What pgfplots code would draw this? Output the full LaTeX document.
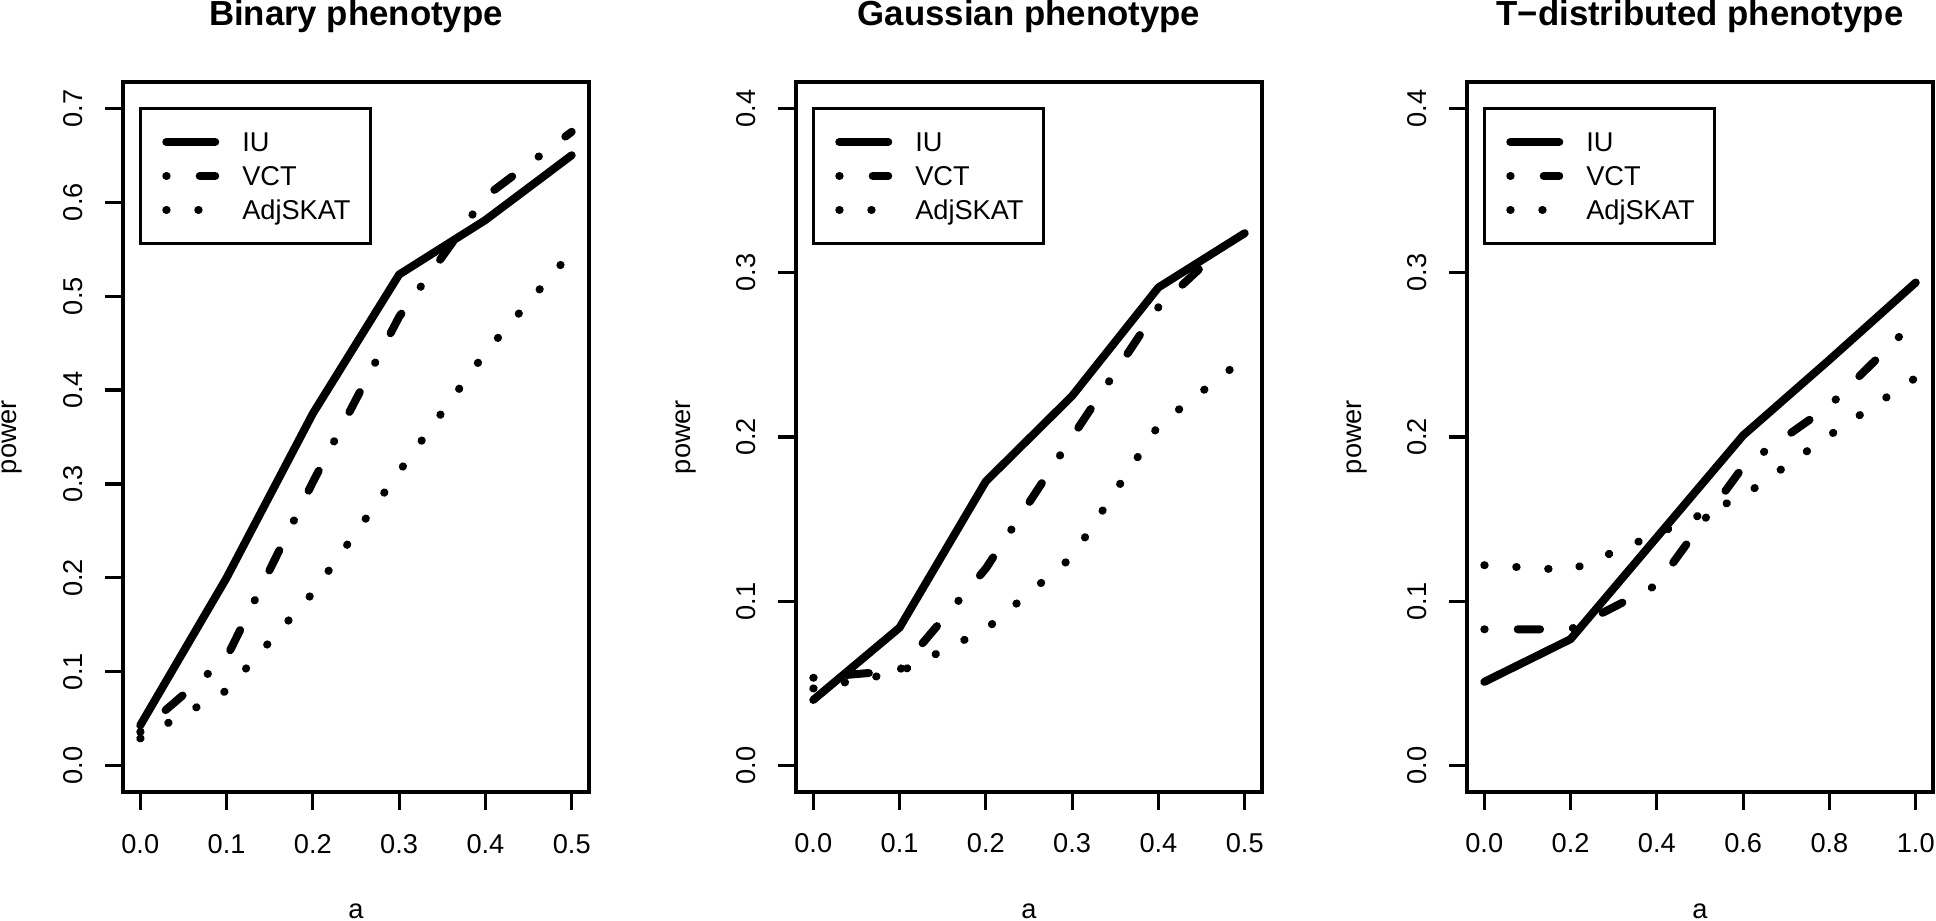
\documentclass[border=0pt]{standalone}
\usepackage{pgfplots}
\pgfplotsset{compat=1.18}
\usepackage{fontspec}
\setmainfont{Liberation Sans}

\tikzset{
  iu/.style={black, line width=2pt, line cap=round, line join=round, solid},
  vct/.style={black, line width=2pt, line cap=round, line join=round, dash pattern=on 0.1pt off 8.25pt on 5.6pt off 8.25pt},
  adj/.style={black, line width=2pt, line cap=round, line join=round, dash pattern=on 0.1pt off 7.9pt},
}

\pgfplotsset{
  rpanel/.style={
    scale only axis, width=116.5pt, height=177.5pt, anchor=south west,
    axis line style={line width=0.8pt},
    major tick style={line width=0.8pt, black},
    tick align=outside, major tick length=4.4pt,
    tick pos=left,
    tick label style={font=\fontsize{6.8}{8}\selectfont},
    /pgf/number format/assume math mode=true,
    xticklabel style={anchor=base},
    xticklabel shift=10.85pt,
    yticklabel style={rotate=90, anchor=base},
    yticklabel shift=5.85pt,
    xlabel={a}, ylabel={power},
    label style={font=\fontsize{6.8}{8}\selectfont},
    xlabel style={at={(axis description cs:0.5,-0.1775)}, anchor=base},
    ylabel style={at={(axis description cs:-0.2275,0.5)}, anchor=base, rotate=0},
    every axis title shift=0pt,
    title style={at={(axis description cs:0.5,1.0789)}, anchor=base, font=\bfseries\fontsize{8.7}{10}\selectfont},
    legend style={anchor=north west, draw=black, line width=0.8pt, fill=white,
      inner xsep=0pt, inner ysep=5.9pt, row sep=3.5pt, column sep=0pt,
      cells={anchor=west}, outer sep=0pt,
      nodes={inner sep=0pt, text height=5pt, text depth=0pt, font=\fontsize{6.8}{8}\selectfont, text width=32pt, align=left}},
    legend image code/.code={\path[draw=none] (0pt,0pt) -- (25.5pt,0pt); \draw[#1] (6.5pt,0pt) -- (18.75pt,0pt);},
  },
  halfx/.style={xmin=-0.02, xmax=0.52, xtick={0,0.1,0.2,0.3,0.4,0.5}, xticklabels={0.0,0.1,0.2,0.3,0.4,0.5}},
  lowy/.style={ymin=-0.016, ymax=0.416, ytick={0,0.1,0.2,0.3,0.4}, yticklabels={0.0,0.1,0.2,0.3,0.4}, legend style={at={(axis cs:0,0.4)}}},
}

\begin{document}
\begin{tikzpicture}
\path[use as bounding box] (0,0) rectangle (484pt,230pt);

\begin{axis}[rpanel, halfx, at={(30.75pt,32pt)},
  ymin=-0.028, ymax=0.728, ytick={0,0.1,0.2,0.3,0.4,0.5,0.6,0.7},
  yticklabels={0.0,0.1,0.2,0.3,0.4,0.5,0.6,0.7},
  legend style={at={(axis cs:0,0.7)}},
  title={Binary phenotype}]
\addplot[iu] coordinates {(0,0.043) (0.1,0.200) (0.2,0.375) (0.3,0.523) (0.4,0.581) (0.5,0.650)};
\addplot[vct] coordinates {(0,0.036) (0.1,0.115) (0.2,0.302) (0.3,0.478) (0.4,0.606) (0.5,0.675)};
\addplot[adj] coordinates {(0,0.029) (0.1,0.080) (0.2,0.184) (0.3,0.313) (0.4,0.440) (0.5,0.547)};
\legend{IU,VCT,AdjSKAT}
\end{axis}

\begin{axis}[rpanel, halfx, lowy, at={(199pt,32pt)},
  title={Gaussian phenotype}]
\addplot[iu] coordinates {(0,0.040) (0.1,0.084) (0.2,0.173) (0.3,0.225) (0.4,0.291) (0.5,0.324)};
\addplot[vct] coordinates {(0,0.0535) (0.1,0.058) (0.2,0.120) (0.3,0.200) (0.4,0.279) (0.5,0.328)};
\addplot[adj] coordinates {(0,0.047) (0.1,0.057) (0.2,0.083) (0.3,0.127) (0.4,0.207) (0.5,0.248)};
\legend{IU,VCT,AdjSKAT}
\end{axis}

\begin{axis}[rpanel, lowy, at={(366.75pt,32pt)},
  xmin=-0.04, xmax=1.04, xtick={0,0.2,0.4,0.6,0.8,1.0}, xticklabels={0.0,0.2,0.4,0.6,0.8,1.0},
  title={T−distributed phenotype}]
\addplot[iu] coordinates {(0,0.051) (0.2,0.077) (0.4,0.139) (0.6,0.201) (0.8,0.247) (1.0,0.294)};
\addplot[vct] coordinates {(0,0.083) (0.2,0.083) (0.4,0.110) (0.6,0.182) (0.8,0.219) (1.0,0.271)};
\addplot[adj] coordinates {(0,0.122) (0.2,0.119) (0.4,0.141) (0.6,0.164) (0.8,0.201) (1.0,0.236)};
\legend{IU,VCT,AdjSKAT}
\end{axis}
\end{tikzpicture}
\end{document}
